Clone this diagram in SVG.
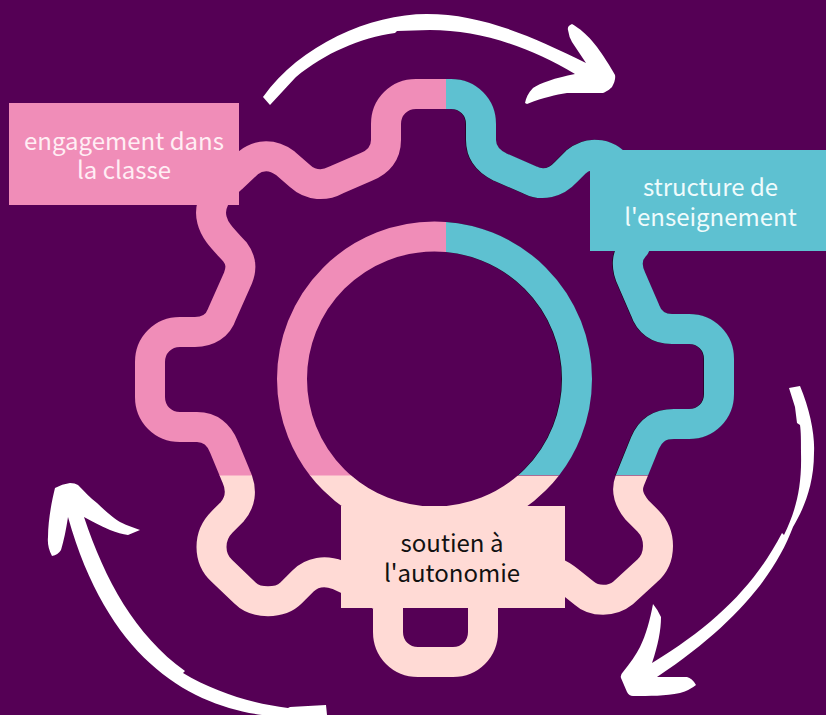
<svg xmlns="http://www.w3.org/2000/svg" width="826" height="715" viewBox="0 0 826 715">
<style>
text{font-family:"Noto Sans CJK SC","Noto Sans",sans-serif;font-size:24px;text-anchor:middle}
.g{fill:none;stroke-width:30;stroke-linejoin:round}
.a{fill:#fff;stroke:none}
</style>
<defs>
<clipPath id="cl"><rect x="0" y="0" width="446" height="476"/></clipPath>
<clipPath id="cr"><rect x="446" y="0" width="380" height="475"/></clipPath>
<clipPath id="cb"><rect x="0" y="475.5" width="826" height="240"/></clipPath>
<g id="shape">
<circle cx="434.5" cy="379" r="142.5"/>
<path d="M446 94H416C399 94 386 107 386 124V140C386 153 379 162 366 167L336 180C325 186 311 186 300 176L285 163C273 154 259 154 248 163L232 178C216 192 208 205 212 220C215 232 224 240 235 252C241 260 242 268 238 278L222 314C218 326 208 332 195 332H180C163 332 150 345 150 362V397C150 414 163 427 180 427H197C210 427 219 434 224 447L236 476C243 491 240 503 232 512L222 522C208 536 208 558 222 571L245 593C256 604 280 604 291 593L303 581C312 572 325 570 338 575L370 590L388 600V632C388 649 401 662 418 662H453C470 662 483 649 483 632V600L520 575C540 565 556 570 569 581L584 593C594 602 612 602 623 593L647 571C662 558 661 534 648 521L637 510C628 499 626 490 630 480L645 443C650 431 659 424 674 424H689C706 424 719 411 719 394V359C719 342 706 329 689 329H672C658 329 649 322 645 310L632 280C626 268 626 255 635 246L620 170C610 153 590 150 576 162L566 172C556 183 542 186 530 180L500 167C488 161 481 152 481 140V124C481 107 468 94 451 94Z"/>
</g>
</defs>
<rect width="826" height="715" fill="#550055"/>
<g id="gear">
<g clip-path="url(#cr)"><use href="#shape" class="g" stroke="#000" opacity="0.75" transform="translate(-0.6 0)"/></g>
<use href="#shape" class="g" stroke="#F08DB8" clip-path="url(#cl)"/>
<use href="#shape" class="g" stroke="#5EC1D1" clip-path="url(#cr)"/>
<use href="#shape" class="g" stroke="#FFDAD5" clip-path="url(#cb)"/>
</g>
<g id="connectors">
<path class="a" d="M263 97C300 45 370 14 427 14C480 14 530 35 586 63L572 42Q569 37 568 30Q567 26 572 24Q574 25 578 28C584 32 590 38 597 47C603 55 610 66 615 75Q616 80 612 87C611 88 608 91 603 93L567 93C555 95 545 97 527 104L525 103C526 98 528 93 533 88C540 83 555 78 575 74C530 47 480 30 430 30L397 31L395 33C360 38 325 53 296 77L295 78L270 105Z"/>
<path class="a" d="M789 388L800 386C810 410 815 435 814 453C814 490 800 515 793 527C775 575 735 625 657 677L687 677Q692 678 696 685Q690 690 680 693C665 696 650 696 633 696Q629 696 627 692L621 678Q620 675 623 672C630 663 636 655 640 647C646 635 650 620 653 604Q658 610 661 617C661 630 658 645 652 663C715 625 755 585 782 533L784 535C795 512 802 490 801 453C801 440 801 432 800 425L797 423L795 407Z"/>
<path class="a" d="M327 715H262C190 705 108 660 68 517C66 530 64 540 61 550Q58 555 52 556Q47 547 48 537C48 520 52 500 55 488Q62 484 70 483Q75 483 78 485C85 492 90 498 97 503C105 511 115 519 120 522C128 526 135 528 140 530L128 535Q120 534 110 530C100 526 92 521 84 517C105 580 135 635 185 671L183 673C215 692 250 703 288 708L290 707L326 705Z"/>
</g>
<g id="engagement">
<rect x="9" y="103" width="230" height="102" fill="#F08DB8"/>
<text fill="#FFEEF4"><tspan x="124" y="150">engagement dans</tspan><tspan x="124" y="179">la classe</tspan></text>
</g>
<g id="structure">
<rect x="590" y="150" width="236" height="101" fill="#5EC1D1"/>
<text fill="#EFFBFC"><tspan x="710.5" y="196">structure de</tspan><tspan x="710.5" y="226">l'enseignement</tspan></text>
</g>
<g id="soutien">
<rect x="341" y="506" width="224" height="102" fill="#FFDAD5"/>
<text fill="#111"><tspan x="452" y="552">soutien à</tspan><tspan x="452" y="582">l'autonomie</tspan></text>
</g>
</svg>
